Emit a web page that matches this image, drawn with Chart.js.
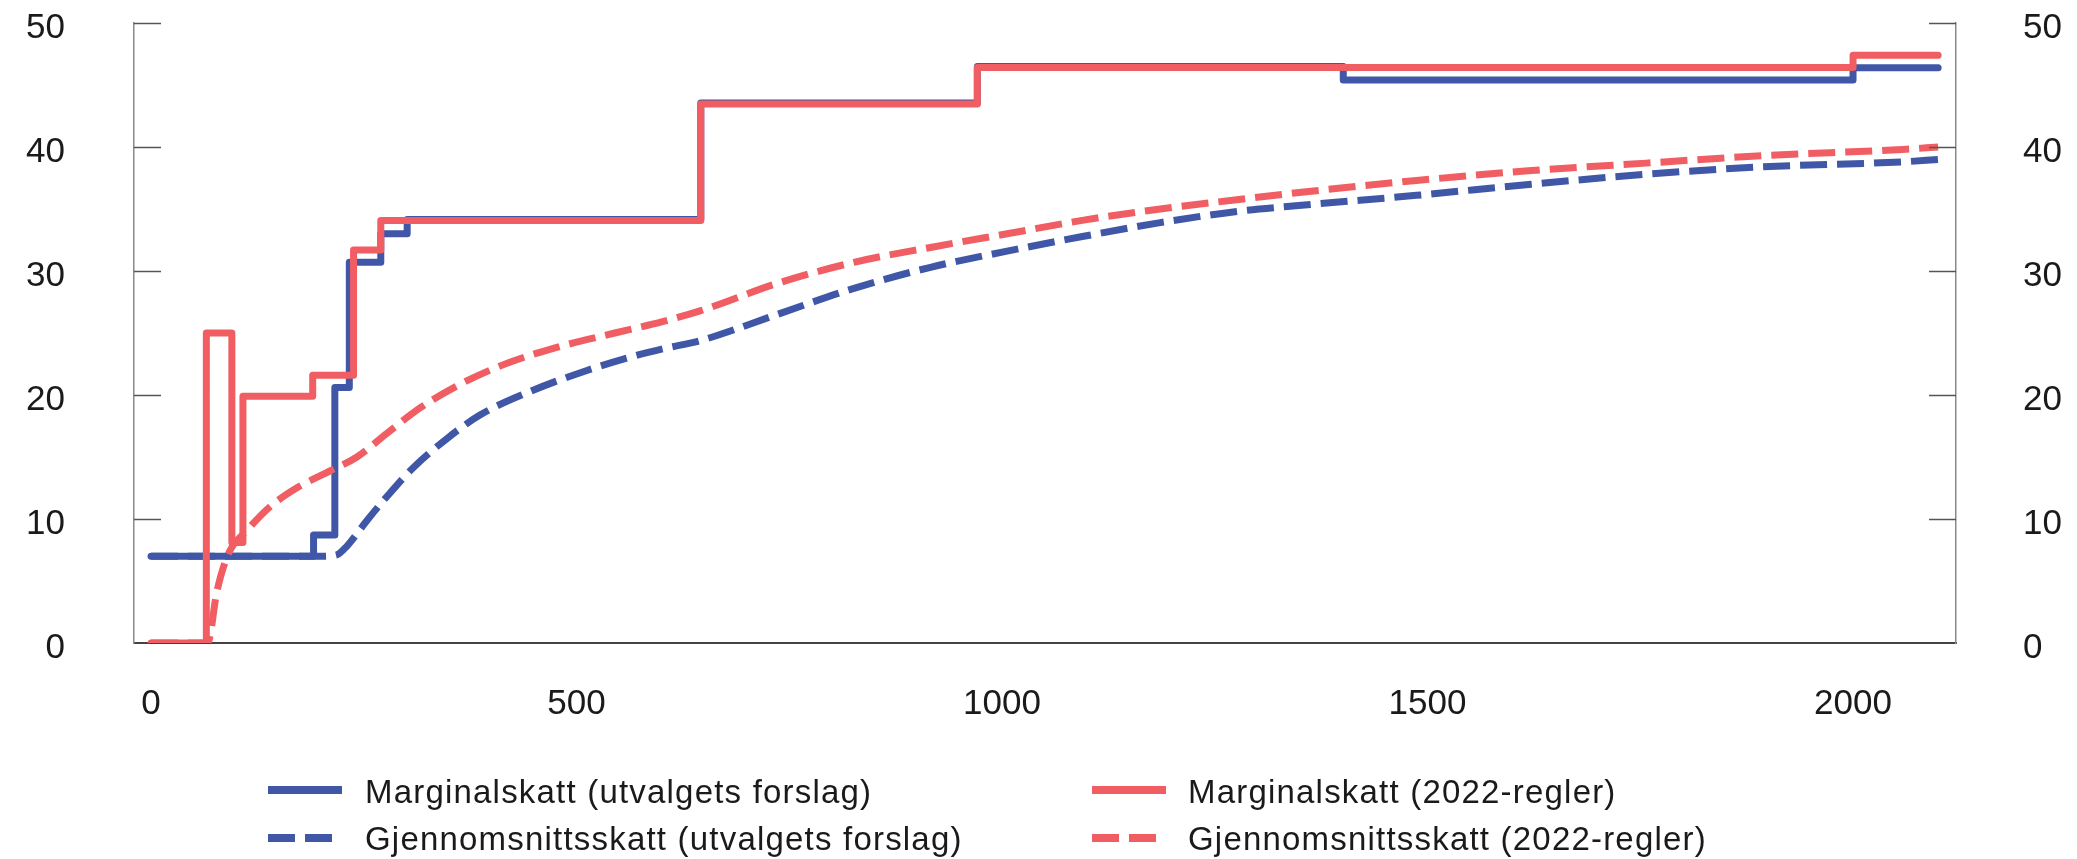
<!DOCTYPE html>
<html>
<head>
<meta charset="utf-8">
<script src="https://cdn.jsdelivr.net/npm/chart.js@4"></script>
<style>
  html, body { margin: 0; padding: 0; background: #fff; }
  #wrap { position: relative; width: 2077px; height: 859px; overflow: hidden; }
  #c { position: absolute; left: 0; top: 0; }
  .leg { position: absolute; font-family: "Liberation Sans", Arial, sans-serif; font-size: 33px;
         letter-spacing: 1.2px; line-height: 40px; color: #1a1a1a; white-space: nowrap; }
  .sw { position: absolute; }
</style>
</head>
<body>
<div id="wrap">
  <canvas id="c" width="2077" height="859"></canvas>

  <svg class="sw" style="left:268px;top:785px" width="74" height="10"><line x1="0" y1="5" x2="74" y2="5" stroke="#3f57a6" stroke-width="8"/></svg>
  <div class="leg" style="left:365px;top:772px">Marginalskatt (utvalgets forslag)</div>
  <svg class="sw" style="left:268px;top:833px" width="74" height="10"><line x1="0" y1="5" x2="74" y2="5" stroke="#3f57a6" stroke-width="8" stroke-dasharray="27 10"/></svg>
  <div class="leg" style="left:365px;top:819px">Gjennomsnittsskatt (utvalgets forslag)</div>

  <svg class="sw" style="left:1092px;top:785px" width="74" height="10"><line x1="0" y1="5" x2="74" y2="5" stroke="#f05e63" stroke-width="8"/></svg>
  <div class="leg" style="left:1188px;top:772px">Marginalskatt (2022-regler)</div>
  <svg class="sw" style="left:1092px;top:833px" width="74" height="10"><line x1="0" y1="5" x2="74" y2="5" stroke="#f05e63" stroke-width="8" stroke-dasharray="27 10"/></svg>
  <div class="leg" style="left:1188px;top:819px">Gjennomsnittsskatt (2022-regler)</div>
</div>
<script>
// inntekt (1000 kr) og skattesats (prosent)
const xTicks = [0, 500, 1000, 1500, 2000];
const yTicks = [0, 10, 20, 30, 40, 50];

// marginalskatt, utvalgets forslag (trinn)
const blueMargX = [0, 191, 216, 233, 270, 301, 646, 971, 1401, 2000, 2100];
const blueMargY = [7.0, 8.7, 20.6, 30.7, 33.0, 34.15, 43.55, 46.5, 45.4, 46.4, 46.4];

// marginalskatt, 2022-regler (trinn)
const redMargX = [0, 65, 95, 108, 190, 238, 270, 646, 971, 2000, 2100];
const redMargY = [0, 25.0, 8.1, 19.9, 21.6, 31.7, 34.07, 43.47, 46.42, 47.4, 47.4];

// gjennomsnittsskatt, utvalgets forslag
const blueAvgX = [0, 200, 218, 230, 254, 277, 309, 348, 387, 446, 513, 555, 600, 646, 736, 826, 916, 1006, 1096, 1186, 1276, 1352, 1487, 1622, 1757, 1892, 2058, 2100];
const blueAvgY = [7.0, 7.0, 7.1, 7.8, 9.9, 11.8, 14.2, 16.5, 18.4, 20.3, 22.0, 22.9, 23.7, 24.4, 26.5, 28.6, 30.3, 31.6, 32.8, 33.9, 34.8, 35.3, 36.1, 37.0, 37.8, 38.4, 38.8, 39.0];

// gjennomsnittsskatt, 2022-regler
const redAvgX = [0, 65, 68, 77, 91, 113, 140, 171, 211, 242, 277, 317, 367, 420, 480, 545, 600, 646, 736, 826, 916, 1006, 1096, 1186, 1276, 1352, 1487, 1622, 1757, 1892, 2058, 2100];
const redAvgY = [0, 0, 0.2, 4.0, 7.2, 9.1, 11.0, 12.5, 13.9, 15.0, 16.9, 19.0, 21.0, 22.6, 23.9, 25.0, 25.9, 26.8, 29.0, 30.7, 31.9, 33.0, 34.1, 35.0, 35.75, 36.35, 37.3, 38.1, 38.7, 39.3, 39.8, 40.0];

const blue = '#3f57a6';
const red = '#f05e63';
const fontFam = '"Liberation Sans", Arial, sans-serif';

function pts(xs, ys){
  return xs.map((x, i) => ({x: x, y: ys[i]}));
}

// små innovervendte tick-streker på begge y-aksene
const innerTicks = {
  id: 'innerTicks',
  afterDraw(chart){
    const ctx = chart.ctx, a = chart.chartArea, y = chart.scales.y;
    ctx.save();
    ctx.strokeStyle = '#555';
    ctx.lineWidth = 1.5;
    yTicks.forEach(v => {
      if (v === 0) return;
      const py = Math.round(y.getPixelForValue(v)) + 0.5;
      ctx.beginPath();
      ctx.moveTo(a.left, py); ctx.lineTo(a.left + 27, py);
      ctx.moveTo(a.right - 27, py); ctx.lineTo(a.right, py);
      ctx.stroke();
    });
    ctx.restore();
  }
};

const yAxis = (pos, w, pad) => ({
  position: pos,
  min: 0,
  max: 50,
  grid: { display: false, drawTicks: false },
  border: { display: true, color: '#8a8a8a', width: 1.5 },
  ticks: { stepSize: 10, padding: pad, labelOffset: 5, color: '#1a1a1a', font: { family: fontFam, size: 35 },
           callback: v => String(v) },
  afterBuildTicks: s => { s.ticks = yTicks.map(v => ({value: v})); },
  afterFit: s => { s.width = w; s.paddingTop = 0; s.paddingBottom = 0; }
});

new Chart(document.getElementById('c'), {
  type: 'line',
  data: {
    datasets: [
      { label: 'Gjennomsnittsskatt (2022-regler)', data: pts(redAvgX, redAvgY), borderColor: red,
        borderWidth: 7, borderDash: [27, 10], cubicInterpolationMode: 'monotone', order: 0 },
      { label: 'Marginalskatt (2022-regler)', data: pts(redMargX, redMargY), borderColor: red,
        borderWidth: 7, stepped: true, borderCapStyle: 'round', borderJoinStyle: 'round', order: 1 },
      { label: 'Gjennomsnittsskatt (utvalgets forslag)', data: pts(blueAvgX, blueAvgY), borderColor: blue,
        borderWidth: 7, borderDash: [27, 10], cubicInterpolationMode: 'monotone', order: 2 },
      { label: 'Marginalskatt (utvalgets forslag)', data: pts(blueMargX, blueMargY), borderColor: blue,
        borderWidth: 7, stepped: true, borderCapStyle: 'round', borderJoinStyle: 'round', order: 3 }
    ]
  },
  options: {
    responsive: false,
    devicePixelRatio: 1,
    animation: false,
    parsing: false,
    elements: { point: { radius: 0 } },
    layout: { padding: { top: 23, bottom: 136, left: 0, right: 0 } },
    plugins: { legend: { display: false }, tooltip: { enabled: false } },
    scales: {
      x: {
        type: 'linear',
        min: -20,
        max: 2121,
        grid: { display: false, drawTicks: false },
        border: { display: true, color: '#444', width: 2 },
        ticks: { padding: 40, color: '#1a1a1a', font: { family: fontFam, size: 35 }, callback: v => String(v) },
        afterBuildTicks: s => { s.ticks = xTicks.map(v => ({value: v})); },
        afterFit: s => { s.height = 80; s.paddingLeft = 0; s.paddingRight = 0; }
      },
      y: yAxis('left', 134, 69),
      y2: yAxis('right', 121, 67)
    }
  },
  plugins: [innerTicks]
});
</script>
</body>
</html>
